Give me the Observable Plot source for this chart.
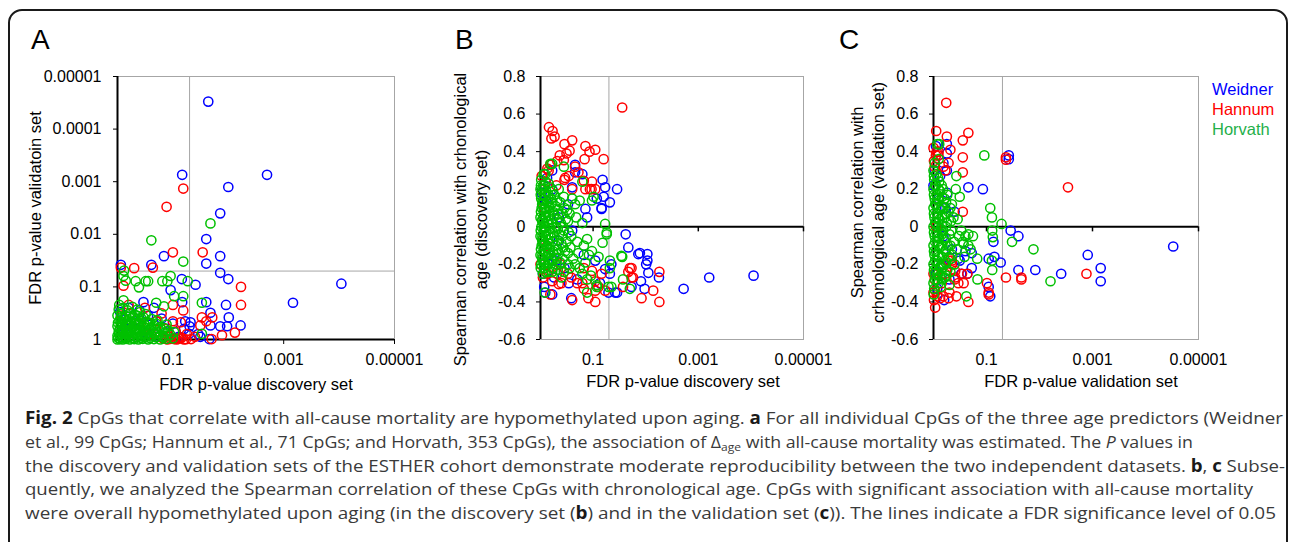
<!DOCTYPE html>
<html><head><meta charset="utf-8">
<script src="https://cdn.jsdelivr.net/npm/d3@7"></script>
<script src="https://cdn.jsdelivr.net/npm/@observablehq/plot@0.6"></script>
<style>
html,body{margin:0;padding:0;background:#fff;width:1290px;height:542px;overflow:hidden;}
#fig{position:relative;width:1290px;height:542px;}
.box{position:absolute;left:8px;top:9px;width:1280px;height:640px;border:2px solid #1a1a1a;border-radius:14px;box-sizing:border-box;}
.panel{position:absolute;top:0;}
.panel svg{overflow:visible;}
.letter{position:absolute;font-family:"Liberation Sans",Arial,sans-serif;font-size:28px;line-height:28px;color:#000;}
.legend{position:absolute;left:1212px;top:79px;font-family:"Liberation Sans",Arial,sans-serif;font-size:16.5px;line-height:20px;}
.cap{position:absolute;left:25px;font-family:"Open Sans",sans-serif;font-size:17px;line-height:20px;color:#3a3a3a;white-space:nowrap;transform-origin:0 0;}
.cap b{color:#1a1a1a;}
.cap sub{font-size:0.68em;vertical-align:-0.3em;line-height:0;}
</style></head>
<body>
<div id="fig">
  <div class="box"></div>
  <div class="letter" style="left:31px;top:26px">A</div>
  <div class="letter" style="left:455px;top:26px">B</div>
  <div class="letter" style="left:839px;top:26px">C</div>
  <div id="pA" class="panel" style="left:0px"></div>
  <div id="pB" class="panel" style="left:430px"></div>
  <div id="pC" class="panel" style="left:830px"></div>
  <div class="legend">
    <div style="color:#0000ff">Weidner</div>
    <div style="color:#ff0000">Hannum</div>
    <div style="color:#1fb04a">Horvath</div>
  </div>
  <div class="cap" data-w="1258" style="top:408px"><b>Fig. 2</b> CpGs that correlate with all-cause mortality are hypomethylated upon aging. <b>a</b> For all individual CpGs of the three age predictors (Weidner</div>
  <div class="cap" data-w="1168" style="top:432px">et al., 99 CpGs; Hannum et al., 71 CpGs; and Horvath, 353 CpGs), the association of Δ<sub>age</sub> with all-cause mortality was estimated. The <i>P</i> values in</div>
  <div class="cap" data-w="1260" style="top:456px">the discovery and validation sets of the ESTHER cohort demonstrate moderate reproducibility between the two independent datasets. <b>b</b>, <b>c</b> Subse-</div>
  <div class="cap" data-w="1228" style="top:479px">quently, we analyzed the Spearman correlation of these CpGs with chronological age. CpGs with significant association with all-cause mortality</div>
  <div class="cap" data-w="1251" style="top:503px">were overall hypomethylated upon aging (in the discovery set (<b>b</b>) and in the validation set (<b>c</b>)). The lines indicate a FDR significance level of 0.05</div>
</div>
<script>
// ---------- DATA ----------
const seriesNames = ["Weidner", "Hannum", "Horvath"];
const seriesColors = ["#0000ff", "#ff0000", "#00c000"];
const pTicksX = [0.1, 0.001, 0.00001];
const pTicksY = [1, 0.1, 0.01, 0.001, 0.0001, 0.00001];
const rhoTicks = [-0.6, -0.4, -0.2, 0, 0.2, 0.4, 0.6, 0.8];
const fdrLevel = 0.05;

// Panel A: [FDR p discovery, FDR p validation]
const A_weidner = [[0.023,0.00003],[0.068,0.00074],[0.002,0.00074],[0.01,0.00126],[0.014,0.004],[0.025,0.0123],[0.145,0.026],[0.025,0.036],[0.014,0.026],[0.014,0.054],[0.01,0.071],[0.069,0.071],[0.039,0.091],[0.11,0.115],[0.000091,0.087],[0.00068,0.2],[0.87,0.038],[0.245,0.038],[0.34,0.195],[0.068,0.195],[0.025,0.195],[0.011,0.22],[0.021,0.31],[0.0098,0.38],[0.006,0.54],[0.014,0.56],[0.0105,0.56],[0.021,0.54],[0.048,0.47],[0.051,0.78],[0.022,0.98],
[0.63,0.25],[0.4,0.28],[0.28,0.355],[0.16,0.4],[0.1,0.5],[0.45,0.63],[0.126,0.71],[0.079,0.89],[0.063,0.63],[0.2,0.89],[0.035,0.79],[0.5,0.45],[0.22,0.25],[0.05,0.56],[0.032,0.89],[0.9,0.3],[0.75,0.6],[0.3,0.75],[0.09,0.95],[0.06,0.45]];
const A_hannum = [[0.065,0.00135],[0.13,0.003],[0.1,0.022],[0.029,0.022],[0.87,0.043],[0.5,0.044],[0.23,0.043],[0.78,0.095],[0.0059,0.1],[0.0059,0.22],[0.1,0.22],[0.065,0.28],[0.03,0.38],[0.0195,0.38],[0.0076,0.74],[0.013,0.83],[0.02,0.98],[0.047,0.98],[0.072,0.47],[0.032,0.54],
[0.63,0.22],[0.32,0.25],[0.16,0.32],[0.1,0.45],[0.089,0.71],[0.079,0.955],[0.112,0.89],[0.14,0.63],[0.056,0.79],[0.2,0.45],[0.4,0.5],[0.04,0.89],[0.126,1],[0.063,1],[0.25,0.79],[0.025,0.45],[0.85,0.35],[0.095,0.98],[0.07,0.92],[0.11,0.97],[0.085,1],[0.075,0.95],[0.058,0.99],[0.15,0.96]];
const A_horvath = [[0.021,0.0062],[0.245,0.013],[0.065,0.033],[0.76,0.049],[0.71,0.076],[0.47,0.078],[0.31,0.078],[0.28,0.078],[0.155,0.078],[0.11,0.062],[0.126,0.078],[0.054,0.078],[0.41,0.102],[0.095,0.15],[0.065,0.15],[0.03,0.2],[0.2,0.2],[0.145,0.234],[0.78,0.18],[0.93,0.22],[0.03,0.78],[0.78,0.062],
[1,1],[0.9,0.98],[0.8,1],[0.7,0.97],[0.6,1],[0.5,0.98],[0.42,1],[0.35,0.97],[0.28,1],[0.22,0.98],[0.17,1],[0.13,0.97],
[1,0.85],[0.88,0.8],[0.75,0.86],[0.65,0.8],[0.55,0.84],[0.45,0.8],[0.37,0.85],[0.3,0.79],[0.24,0.84],[0.19,0.8],[0.15,0.85],[0.11,0.82],
[0.95,0.7],[0.82,0.66],[0.7,0.71],[0.6,0.65],[0.5,0.7],[0.41,0.64],[0.33,0.7],[0.26,0.66],[0.2,0.71],[0.16,0.65],[0.12,0.68],[0.095,0.72],
[1,0.56],[0.86,0.52],[0.74,0.57],[0.62,0.5],[0.52,0.56],[0.43,0.51],[0.35,0.55],[0.28,0.5],[0.22,0.54],[0.17,0.58],[0.13,0.52],
[0.92,0.44],[0.78,0.4],[0.66,0.45],[0.55,0.39],[0.46,0.44],[0.37,0.4],[0.3,0.46],[0.24,0.41],[0.19,0.43],
[1,0.35],[0.84,0.32],[0.7,0.36],[0.58,0.31],[0.48,0.34],[0.39,0.3],[0.31,0.33],
[0.95,0.27],[0.8,0.25],[0.66,0.28],[0.54,0.24],[0.44,0.27],
[0.97,0.93],[0.85,0.9],[0.72,0.92],[0.62,0.9],[0.52,0.93],[0.44,0.9],[0.38,0.92],[0.32,0.9],[0.26,0.93],[0.2,0.9],[0.15,0.92],[0.1,0.95],
[0.93,0.77],[0.8,0.74],[0.68,0.77],[0.58,0.73],[0.48,0.76],[0.4,0.73],[0.34,0.77],[0.27,0.74],[0.21,0.77],[0.14,0.74],
[0.9,0.6],[0.78,0.62],[0.66,0.6],[0.56,0.62],[0.46,0.6],[0.38,0.62],[0.31,0.6],[0.25,0.61],[0.19,0.62],[0.145,0.6],
[0.98,0.48],[0.82,0.47],[0.6,0.47],[0.5,0.48],[0.4,0.47],[0.33,0.49],[0.26,0.48],[0.2,0.5],
[0.88,0.38],[0.75,0.4],[0.62,0.37],[0.52,0.38],[0.42,0.36],[0.34,0.38]];

// Panel B: [FDR p discovery, Spearman rho (discovery)]
const B_weidner = [[0.000089,-0.26],[0.00062,-0.27],[0.0019,-0.33],[0.0056,-0.27],[0.0105,-0.33],[0.0129,-0.14],[0.0093,-0.145],[0.0093,-0.18],[0.0098,-0.2],[0.0089,-0.245],[0.0123,-0.29],[0.0186,-0.32],[0.0214,-0.11],[0.024,-0.04],[0.035,0.2],[0.048,0.13],[0.066,0.25],[0.069,0.1],[0.059,0.21],[0.085,0.15],[0.038,-0.35],[0.048,-0.25],[0.045,-0.2],[0.074,-0.3],[0.22,0.29],[0.26,-0.38],[0.29,-0.3],[0.81,-0.35],[0.6,-0.36],[0.0138,-0.145],[0.063,0.16],[0.069,0.095],[0.14,0.095],[0.25,0.21],[0.16,0.28],[0.22,0.33],[0.091,-0.18],[0.059,-0.225],[0.051,-0.35],[0.035,-0.35],[0.8,0.14],[0.6,0.3],[0.45,-0.075],[0.6,-0.18],
[0.95,0.18],[0.8,0.05],[0.7,-0.15],[0.6,0.2],[0.5,-0.18],[0.45,0.05],[0.9,-0.25],[0.35,-0.22],[0.3,0.12],[0.25,-0.02],[0.2,-0.28],[0.15,-0.15],[0.13,0.05],[0.55,-0.27],[0.75,0.26],[0.85,-0.32]];
const B_hannum = [[0.028,0.635],[0.69,0.53],[0.59,0.51],[0.62,0.47],[0.54,0.48],[0.25,0.46],[0.35,0.44],[0.14,0.43],[0.117,0.4],[0.091,0.41],[0.063,0.36],[0.145,0.36],[0.105,0.24],[0.091,0.2],[0.107,0.2],[0.28,0.405],[0.32,0.39],[0.36,0.355],[0.43,0.38],[0.48,0.35],[0.22,0.32],[0.29,0.27],[0.34,0.26],[0.19,0.29],[0.65,0.33],[0.74,0.31],[0.15,0.245],[0.14,0.2],[0.115,0.2],
[0.012,-0.38],[0.0055,-0.4],[0.0055,-0.24],[0.0072,-0.34],[0.0186,-0.22],[0.0174,-0.27],[0.0214,-0.24],[0.027,-0.32],[0.091,-0.4],[0.25,-0.39],[0.123,-0.38],[0.15,-0.33],[0.059,-0.34],[0.091,-0.34],[0.069,-0.25],[0.091,-0.29],[0.105,-0.235],[0.65,-0.36],[0.45,-0.305],[0.48,-0.25],[0.42,-0.2],[0.74,-0.25],[0.6,-0.29],[0.26,-0.27],[0.16,-0.3],[0.079,-0.32],[0.02,-0.22],[0.0186,-0.27],
[0.95,0.27],[0.8,0.24],[0.7,0.3],[0.6,-0.22],[0.9,-0.27],[0.5,0.22],[0.4,-0.3],[0.35,0.25],[0.3,-0.25],[0.25,0.2],[0.2,-0.3],[0.15,-0.22],[1,-0.2],[0.85,0.1],[0.75,-0.1]];
const B_horvath = [[0.059,0.015],[0.055,-0.04],[0.066,-0.085],[0.028,-0.16],[0.027,-0.28],[0.02,-0.33],[0.045,-0.32],[0.048,-0.22],[0.085,-0.32],[0.13,-0.35],[0.098,0.16],[0.16,0.24],[0.87,0.28],[0.65,0.335],[0.36,0.32],[0.83,-0.35],[0.055,-0.03],[0.048,-0.18],[0.079,-0.16],[0.105,-0.13],[0.13,-0.065],[0.029,-0.155],[0.051,-0.32],[0.085,-0.31],[0.16,-0.25],[0.22,-0.2],[0.105,0.14],[0.18,0.14],[0.6,0.335],[0.81,0.28],[0.36,0.16],
[1,0.2],[0.97,0.15],[0.95,0.1],[1,0.05],[0.96,0],[1,-0.05],[0.95,-0.1],[1,-0.15],[0.97,-0.2],
[0.88,0.22],[0.85,0.17],[0.9,0.12],[0.86,0.06],[0.89,0.02],[0.84,-0.03],[0.9,-0.08],[0.86,-0.13],[0.88,-0.18],[0.85,-0.22],
[0.78,0.19],[0.75,0.13],[0.77,0.08],[0.74,0.03],[0.79,-0.02],[0.73,-0.07],[0.76,-0.11],[0.74,-0.16],[0.78,-0.21],
[0.66,0.21],[0.63,0.15],[0.67,0.1],[0.62,0.04],[0.65,-0.01],[0.61,-0.06],[0.66,-0.12],[0.63,-0.17],[0.6,-0.24],
[0.55,0.17],[0.52,0.11],[0.56,0.06],[0.5,0.0],[0.54,-0.05],[0.51,-0.1],[0.55,-0.15],[0.5,-0.2],
[0.45,0.2],[0.42,0.13],[0.46,0.07],[0.41,0.02],[0.44,-0.04],[0.4,-0.09],[0.45,-0.14],[0.42,-0.19],[0.4,-0.27],
[0.35,0.1],[0.33,0.04],[0.36,-0.02],[0.32,-0.08],[0.34,-0.13],[0.3,-0.2],
[0.28,0.07],[0.26,-0.05],[0.27,-0.11],[0.24,-0.17],[0.25,0.15],
[0.21,0.05],[0.2,-0.08],[0.19,-0.14],[0.18,-0.22],[0.22,0.12],
[0.15,-0.1],[0.14,-0.19],[0.16,0.02],[0.12,-0.15],[0.11,-0.26],[0.13,-0.28],
[0.98,0.22],[0.99,0.17],[0.93,0.12],[0.98,0.08],[0.93,0.03],[0.99,-0.02],[0.93,-0.07],[0.98,-0.12],[0.93,-0.17],[0.99,-0.22],[0.97,0.25],
[0.92,0.2],[0.91,0.14],[0.87,0.09],[0.92,0.04],[0.87,-0.01],[0.92,-0.05],[0.88,-0.1],[0.92,-0.15],[0.87,-0.2],[0.9,-0.25],
[0.82,0.22],[0.8,0.16],[0.82,0.1],[0.8,0.05],[0.82,0.0],[0.8,-0.05],[0.82,-0.09],[0.8,-0.14],[0.82,-0.19],[0.8,-0.24],
[0.7,0.23],[0.71,0.17],[0.7,0.11],[0.71,0.06],[0.7,0.01],[0.71,-0.04],[0.7,-0.09],[0.71,-0.14],[0.7,-0.19],[0.71,-0.24],
[0.58,0.19],[0.59,0.13],[0.58,0.08],[0.59,0.02],[0.58,-0.03],[0.59,-0.08],[0.58,-0.13],[0.59,-0.18],[0.58,-0.22],
[0.48,0.14],[0.47,0.09],[0.48,0.04],[0.47,-0.01],[0.48,-0.07],[0.47,-0.12],[0.48,-0.17],[0.47,-0.23],
[0.38,0.07],[0.37,0.0],[0.38,-0.05],[0.37,-0.11],[0.38,-0.17],[0.36,-0.24],
[0.3,0.03],[0.29,-0.03],[0.3,-0.14],[0.28,-0.22],[0.31,0.09]];

// Panel C: [FDR p validation, Spearman rho (validation)]
const C_weidner = [[0.00003,-0.105],[0.00123,-0.15],[0.0007,-0.22],[0.0007,-0.29],[0.0039,-0.25],[0.012,-0.23],[0.025,-0.23],[0.035,-0.02],[0.025,-0.05],[0.038,0.38],[0.038,0.36],[0.22,0.21],[0.117,0.2],[0.085,-0.37],[0.054,-0.19],[0.071,-0.16],[0.091,-0.17],[0.074,-0.08],[0.19,-0.22],[0.23,-0.25],[0.25,-0.13],[0.32,-0.18],[0.63,-0.39],[0.56,0.39],[0.56,0.44],[0.65,0.34],[0.56,0.3],[0.34,-0.17],[0.19,-0.14],[0.091,-0.32],
[0.95,0.3],[0.8,0.15],[0.7,-0.2],[0.9,-0.25],[0.6,0.1],[0.5,-0.28],[0.85,-0.33],[0.4,0.08],[0.45,-0.12],[0.3,-0.25],[1,0.22],[0.75,0.27],[0.65,-0.05],[0.55,0.18],[0.9,0.43]];
const C_hannum = [[0.575,0.66],[0.89,0.51],[0.56,0.48],[0.22,0.5],[0.28,0.46],[0.48,0.41],[0.28,0.37],[0.28,0.29],[0.52,0.34],[0.6,0.3],[0.87,0.4],[0.98,0.35],[0.81,0.38],[0.043,0.37],[0.043,0.357],[0.0029,0.21],[0.28,0.08],[0.043,-0.27],[0.022,-0.27],[0.022,-0.28],[0.0013,-0.25],[0.098,-0.3],[0.091,-0.35],[0.22,-0.4],[0.93,-0.43],[0.98,-0.39],[1,-0.35],[0.37,-0.37],[0.52,-0.38],[0.39,-0.27],[0.39,-0.235],[0.27,-0.3],[0.29,-0.25],[0.52,-0.18],[0.93,-0.34],[0.65,-0.37],[0.45,-0.18],[0.23,-0.25],[0.34,-0.3],[0.091,-0.36],
[1,0.42],[0.9,0.38],[0.95,0.32],[0.8,0.4],[0.7,-0.3],[0.6,-0.25],[0.95,-0.28],[0.5,-0.35],[0.45,-0.2],[0.85,-0.37],[0.75,-0.38],[0.4,-0.28],[0.65,0.32],[1,-0.25],[0.9,0.0]];
const C_horvath = [[0.11,0.38],[0.079,0.05],[0.052,0.015],[0.078,-0.02],[0.076,-0.055],[0.033,-0.08],[0.013,-0.12],[0.0062,-0.29],[0.078,-0.23],[0.148,-0.28],[0.18,-0.05],[0.15,-0.17],[0.24,-0.37],[0.37,0.27],[0.78,0.44],[0.085,0.1],[0.079,-0.18],[0.2,-0.12],[0.22,-0.04],[0.27,-0.09],[0.85,0.44],[0.95,0.34],[0.8,0.36],
[1,0.3],[0.97,0.25],[1,0.2],[0.95,0.15],[1,0.1],[0.96,0.05],[1,0],[0.95,-0.05],[1,-0.1],[0.96,-0.15],[1,-0.2],[0.95,-0.25],[1,-0.3],[0.97,-0.33],
[0.88,0.28],[0.9,0.22],[0.86,0.17],[0.89,0.12],[0.85,0.07],[0.9,0.02],[0.87,-0.03],[0.84,-0.08],[0.9,-0.13],[0.86,-0.18],[0.89,-0.23],[0.85,-0.28],
[0.78,0.24],[0.75,0.19],[0.79,0.14],[0.74,0.09],[0.77,0.04],[0.73,-0.01],[0.78,-0.06],[0.75,-0.11],[0.79,-0.16],[0.74,-0.21],[0.76,-0.26],[0.73,-0.32],
[0.66,0.2],[0.62,0.15],[0.65,0.1],[0.61,0.05],[0.66,-0.02],[0.63,-0.07],[0.6,-0.13],[0.64,-0.2],[0.62,-0.27],
[0.55,0.17],[0.52,0.08],[0.56,0.02],[0.5,-0.04],[0.54,-0.1],[0.51,-0.16],[0.55,-0.23],[0.5,-0.31],
[0.45,0.12],[0.42,0.05],[0.46,-0.02],[0.41,-0.08],[0.44,-0.15],[0.4,-0.2],
[0.35,0.04],[0.33,-0.05],[0.36,-0.12],[0.3,-0.02],[0.28,-0.08],[0.26,-0.16],[0.25,-0.05],[0.22,-0.1],[0.38,0.2],[0.32,0.16],
[0.98,0.27],[0.93,0.22],[0.98,0.17],[0.93,0.12],[0.98,0.07],[0.93,0.02],[0.98,-0.03],[0.93,-0.08],[0.98,-0.13],[0.93,-0.18],[0.98,-0.23],[0.93,-0.28],[0.99,-0.36],
[0.82,0.26],[0.8,0.2],[0.82,0.15],[0.8,0.1],[0.82,0.05],[0.8,0.0],[0.82,-0.05],[0.8,-0.1],[0.82,-0.15],[0.8,-0.2],[0.82,-0.25],[0.8,-0.3],
[0.7,0.22],[0.69,0.16],[0.7,0.11],[0.69,0.06],[0.7,0.01],[0.69,-0.04],[0.7,-0.1],[0.69,-0.16],[0.7,-0.22],[0.69,-0.28],
[0.58,0.13],[0.59,0.07],[0.58,0.0],[0.59,-0.06],[0.58,-0.12],[0.59,-0.19],[0.58,-0.26],
[0.48,0.1],[0.47,0.03],[0.48,-0.1],[0.47,-0.17],[0.48,-0.24]];

const titleA_y = "FDR p-value validatoin set";
const titleA_x = "FDR p-value discovery set";
const titleB_y = "Spearman correlation with crhonological\nage (discovery set)";
const titleB_x = "FDR p-value discovery set";
const titleC_y = "Spearman correlation with\ncrhonological age (validation set)";
const titleC_x = "FDR p-value validation set";

// ---------- BUILD ----------
const FONT = "'Liberation Sans', Arial, sans-serif";
const toRows = (lists) => lists.flatMap((list, i) => list.map(([x, y]) => ({x, y, s: seriesNames[i]})));
const rowsA = toRows([A_weidner, A_hannum, A_horvath]);
const rowsB = toRows([B_weidner, B_hannum, B_horvath]);
const rowsC = toRows([C_weidner, C_hannum, C_horvath]);
const fmtP = d => String(d);
const fmtR = d => d === 0 ? "0" : d.toFixed(1);
const gray = "#a6a6a6";
const dotOpts = {x: "x", y: "y", stroke: "s", r: 4.6, strokeWidth: 1.5, fill: "none"};
const titleOpts = {text: d => d, fontSize: 16.5, textAnchor: "middle", lineAnchor: "middle", fill: "#000"};
const common = {
  width: 400, height: 400, marginTop: 76, marginBottom: 61,
  style: {fontFamily: FONT, fontSize: "16px", color: "#000", background: "transparent", overflow: "visible"},
  color: {domain: seriesNames, range: seriesColors}
};

const plotA = Plot.plot({
  ...common, width: 430, marginLeft: 117, marginRight: 36,
  x: {type: "log", domain: [1, 1e-5]},
  y: {type: "log", domain: [1, 1e-5]},
  marks: [
    Plot.frame({stroke: gray}),
    Plot.ruleX([fdrLevel], {stroke: gray, strokeWidth: 1}),
    Plot.ruleY([fdrLevel], {stroke: gray, strokeWidth: 1}),
    Plot.ruleX([1], {stroke: "#000", strokeWidth: 2}),
    Plot.ruleY([1], {stroke: "#000", strokeWidth: 2}),
    Plot.axisY({ticks: pTicksY, tickFormat: fmtP, tickSize: 4, tickPadding: 12, label: null, color: "#000"}),
    Plot.axisX({ticks: pTicksX, tickFormat: fmtP, tickSize: 5, tickPadding: 9, label: null, color: "#000"}),
    Plot.dot(rowsA, dotOpts),
    Plot.text([titleA_y], {...titleOpts, frameAnchor: "left", dx: -82, rotate: -90}),
    Plot.text([titleA_x], {...titleOpts, frameAnchor: "bottom", dy: 45})
  ]
});
document.getElementById("pA").append(plotA);

function rhoPanel(rows, mL, mR, yT, yDx, yDy, xT, xDx) {
  return Plot.plot({
    ...common, marginLeft: mL, marginRight: mR,
    x: {type: "log", domain: [1, 1e-5]},
    y: {type: "linear", domain: [-0.6, 0.8]},
    marks: [
      Plot.frame({stroke: gray}),
      Plot.ruleX([fdrLevel], {stroke: gray, strokeWidth: 1}),
      Plot.ruleX([1], {stroke: "#000", strokeWidth: 2}),
      Plot.ruleY([0], {stroke: "#000", strokeWidth: 2}),
      Plot.ruleX(pTicksX, {y1: 0, y2: -0.027, stroke: "#000", strokeWidth: 1.5}),
      Plot.axisY({ticks: rhoTicks, tickFormat: fmtR, tickSize: 4, tickPadding: 11, label: null, color: "#000"}),
      Plot.axisX({ticks: pTicksX, tickFormat: fmtP, tickSize: 0, tickPadding: 14, label: null, color: "#000"}),
      Plot.dot(rows, dotOpts),
      Plot.text([yT], {...titleOpts, frameAnchor: "left", dx: yDx, dy: yDy, rotate: -90, lineHeight: 1.33}),
      Plot.text([xT], {...titleOpts, frameAnchor: "bottom", dx: xDx, dy: 42})
    ]
  });
}
document.getElementById("pB").append(rhoPanel(rowsB, 110, 27, titleB_y, -71, 11.5, titleB_x, 11));
document.getElementById("pC").append(rhoPanel(rowsC, 103, 32, titleC_y, -67, -5.5, titleC_x, 15));

// fit caption lines to their widths
function fitCaption() {
  document.querySelectorAll(".cap").forEach(el => {
    el.style.transform = "none";
    const w = el.getBoundingClientRect().width;
    const target = +el.dataset.w;
    if (w > 0) el.style.transform = `scaleX(${target / w})`;
  });
}
fitCaption();
if (document.fonts && document.fonts.ready) document.fonts.ready.then(fitCaption);
</script>
</body></html>
